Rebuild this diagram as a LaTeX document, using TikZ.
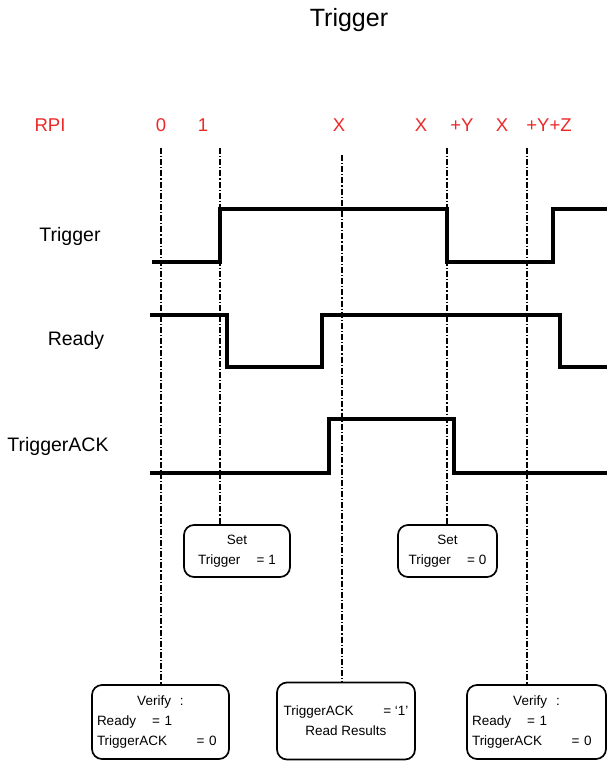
\documentclass[tikz,border=0pt]{standalone}
\usepackage{fontspec}
\setmainfont{Liberation Sans}
\definecolor{rpired}{RGB}{236,40,40}
\usetikzlibrary{positioning}
\tikzset{
  signal/.style={line width=3.2pt, line join=miter},
  guide/.style={line width=1.1pt, dash pattern=on 6pt off 2pt on 1.2pt off 2pt},
  notebox/.style={draw, line width=1.7pt, rounded corners=10pt, inner sep=5pt,
    font=\fontsize{13.5}{20}\selectfont},
  rpilabel/.style={text=rpired, font=\fontsize{18.5}{20}\selectfont, anchor=base},
  siglabel/.style={font=\fontsize{19.5}{21}\selectfont}
}

\begin{document}
\begin{tikzpicture}[x=1pt, y=-1pt]
  \useasboundingbox (0,0) rectangle (613,761);

  % title and signal names
  \node[font=\fontsize{25}{27}\selectfont] (title) at (349,20) {Trigger};
  \node[siglabel] (lbltrig)  at (70,236) {Trigger};
  \node[siglabel] (lblready) at (76,340) {Ready};
  \node[siglabel] (lblack)   at (58,446) {TriggerACK};

  % RPI time marks
  \node[rpilabel] (rpi) at (50,131) {RPI};
  \node[rpilabel] (m0)  at (161,131) {0};
  \node[rpilabel] (m1)  at (203,131) {1};
  \node[rpilabel] (mx)  at (339,131) {X};
  \node[rpilabel] (mxa) at (421,131) {X};
  \node[rpilabel] (my)  at (462,131) {+Y};
  \node[rpilabel] (mxb) at (502,131) {X};
  \node[rpilabel] (myz) at (549,131) {+Y+Z};

  % waveforms
  \draw[signal] (152,262) -- (220,262) -- (220,209) -- (447,209) -- (447,262)
    -- (553,262) -- (553,209) -- (607,209);
  \draw[signal] (150,315) -- (227,315) -- (227,367) -- (322,367) -- (322,315)
    -- (560,315) -- (560,367) -- (607,367);
  \draw[signal] (150,473) -- (329,473) -- (329,419) -- (454,419) -- (454,473)
    -- (607,473);

  % action boxes
  \node[notebox, minimum width=106pt, minimum height=52pt, align=center] (set1) at (237,551)
    {Set\\Trigger\hspace{1.2em}= 1};
  \node[notebox, minimum width=99pt, minimum height=52pt, align=center] (set0) at (447.5,551)
    {Set\\Trigger\hspace{1.2em}= 0};
  \node[notebox, minimum width=137pt, minimum height=74pt, text width=127pt, align=left] (verA) at (160.5,722)
    {\makebox[\linewidth][c]{Verify\ \ :}\\Ready\hspace{1.2em}= 1\\TriggerACK\hspace{2.2em}= 0};
  \node[notebox, minimum width=138pt, minimum height=77pt, align=center] (readres) at (346,721)
    {TriggerACK\hspace{2.2em}= `1'\\Read Results};
  \node[notebox, minimum width=139pt, minimum height=74pt, text width=129pt, align=left] (verB) at (536.5,722)
    {\makebox[\linewidth][c]{Verify\ \ :}\\Ready\hspace{1.2em}= 1\\TriggerACK\hspace{2.2em}= 0};

  % time guides
  \coordinate (g0) at (161,148);
  \coordinate (g1) at (220,148);
  \coordinate (gx) at (342,155);
  \coordinate (gy) at (447,148);
  \coordinate (gz) at (527,148);
  \draw[guide] (g0) -- (g0 |- verA.north);
  \draw[guide] (g1) -- (g1 |- set1.north);
  \draw[guide] (gx) -- (gx |- readres.north);
  \draw[guide] (gy) -- (gy |- set0.north);
  \draw[guide] (gz) -- (gz |- verB.north);
\end{tikzpicture}
\end{document}
